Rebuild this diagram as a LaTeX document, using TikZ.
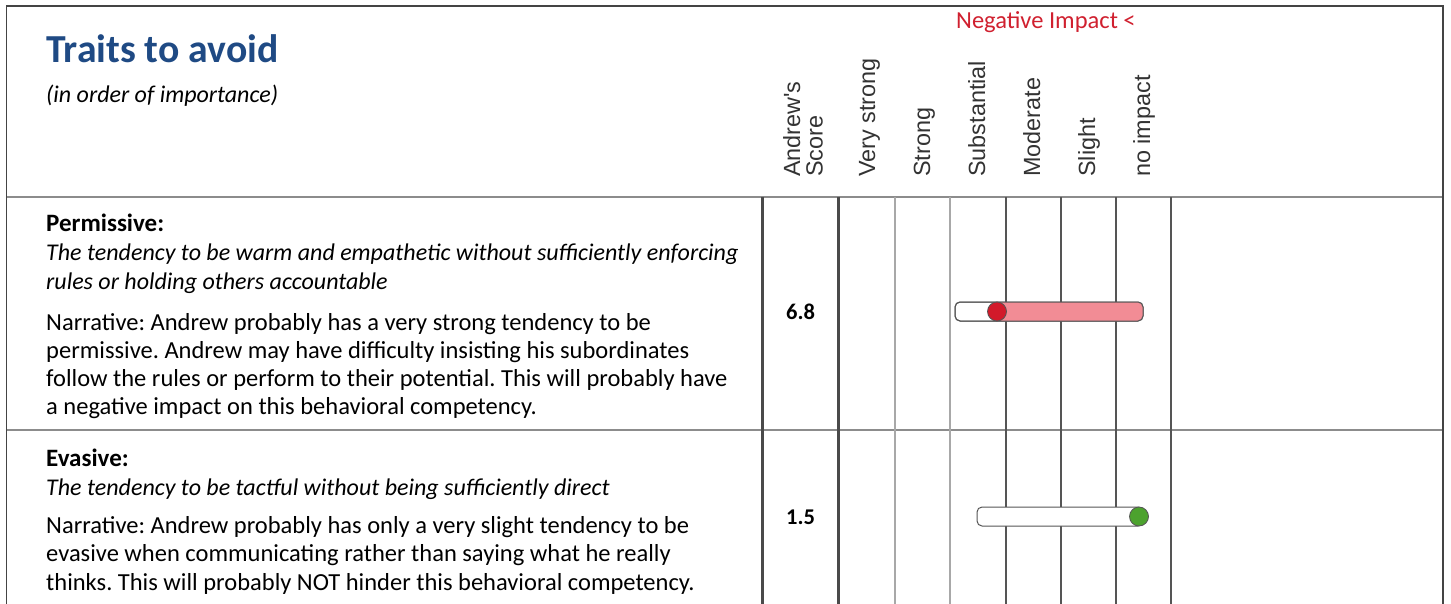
\documentclass[tikz,border=0pt]{standalone}
\usepackage{fontspec}
\setmainfont{Carlito}
\newfontfamily\hdrfont{Liberation Sans}
\definecolor{titleblue}{HTML}{1F4A84}
\definecolor{impactred}{HTML}{D0202F}
\definecolor{hdrgray}{HTML}{333333}
\definecolor{borderc}{HTML}{444444}
\definecolor{rowc}{HTML}{8C8C8C}
\definecolor{thickc}{HTML}{4A4A4A}
\definecolor{lightc}{HTML}{A8A8A8}
\definecolor{midc}{HTML}{555555}
\definecolor{barpink}{HTML}{F28C95}
\definecolor{dotred}{HTML}{D21A2A}
\definecolor{dotgreen}{HTML}{4CA22E}
\frenchspacing
\begin{document}
\begin{tikzpicture}[x=1pt,y=-1pt,
  txt/.style={anchor=base west, inner sep=0pt, font=\fontsize{24.5}{28}\selectfont},
  itxt/.style={txt, font=\fontsize{24}{28}\selectfont\itshape},
  btxt/.style={txt, font=\fontsize{25}{28}\selectfont\bfseries},
  hdr/.style={rotate=90, anchor=base west, inner sep=0pt, text=hdrgray, font=\hdrfont\fontsize{23.4}{22.5}\selectfont},
  score/.style={anchor=base, inner sep=0pt, font=\fontsize{22.5}{26}\selectfont\bfseries},
  border/.style={draw=borderc, line width=1.5pt},
  rowline/.style={draw=rowc, line width=1.6pt},
  thickline/.style={draw=thickc, line width=3pt},
  lightline/.style={draw=lightc, line width=1.5pt},
  midline/.style={draw=midc, line width=1.2pt},
  bar/.style={draw=midc, line width=1pt, rounded corners=5pt},
  dot/.style={circle, draw=midc, line width=0.8pt, minimum size=19pt, inner sep=0pt}
]
\useasboundingbox (0,0) rectangle (1451,604);

% grid lines
\draw[rowline] (6.5,197) -- (1443,197);
\draw[rowline] (6.5,430) -- (1443,430);
\foreach \x in {895,950} \draw[lightline] (\x,197) -- (\x,604);
\foreach \x in {1006,1061,1116,1171} \draw[midline] (\x,197) -- (\x,604);
\foreach \x in {762,838} \draw[thickline] (\x,197) -- (\x,604);
\draw[border] (6.5,604) -- (6.5,6) -- (1443,6) -- (1443,604);

% title
\node[anchor=base west, inner sep=0pt, text=titleblue, font=\fontsize{39.7}{44}\selectfont\bfseries] (title) at (46,62.7) {Traits to avoid};
\node[itxt] (sub) at (46,103) {(in order of importance)};

% header
\node[anchor=base west, inner sep=0pt, text=impactred, font=\fontsize{24.5}{26}\selectfont] (neg) at (956,28.3) {Negative Impact <};
\node[hdr, anchor=south west, align=left] (hscore) at (823,177) {Andrew's\\Score};
\node[hdr] (h1) at (875,177) {Very strong};
\node[hdr] (h2) at (930,177) {Strong};
\node[hdr] (h3) at (985,177) {Substantial};
\node[hdr] (h4) at (1040,177) {Moderate};
\node[hdr] (h5) at (1095,177) {Slight};
\node[hdr] (h6) at (1150,177) {no impact};

% row 1
\node[btxt] (p0) at (46,232) {Permissive:};
\node[itxt] (p1) at (46,261) {The tendency to be warm and empathetic without sufficiently enforcing};
\node[itxt] (p2) at (46,289.5) {rules or holding others accountable};
\node[txt] (p3) at (46,330) {Narrative: Andrew probably has a very strong tendency to be};
\node[txt] (p4) at (46,358.3) {permissive. Andrew may have difficulty insisting his subordinates};
\node[txt] (p5) at (46,386.6) {follow the rules or perform to their potential. This will probably have};
\node[txt] (p6) at (46,414.9) {a negative impact on this behavioral competency.};
\node[score] (s1) at (800.5,319) {6.8};

\draw[bar, fill=white] (955,302) rectangle (1143,321);
\begin{scope}
  \clip (997,295) rectangle (1150,330);
  \fill[barpink, rounded corners=5pt] (955,302) rectangle (1143,321);
\end{scope}
\draw[bar] (955,302) rectangle (1143,321);
\node[dot, fill=dotred] (d1) at (997,311.5) {};

% row 2
\node[btxt] (e0) at (46,466) {Evasive:};
\node[itxt] (e1) at (46,495) {The tendency to be tactful without being sufficiently direct};
\node[txt] (e2) at (46,533) {Narrative: Andrew probably has only a very slight tendency to be};
\node[txt] (e3) at (46,561.5) {evasive when communicating rather than saying what he really};
\node[txt] (e4) at (46,590) {thinks. This will probably NOT hinder this behavioral competency.};
\node[score] (s2) at (800.5,524) {1.5};

\draw[bar, fill=white] (977,507) rectangle (1143,526);
\node[dot, fill=dotgreen] (d2) at (1139,516.5) {};
\end{tikzpicture}
\end{document}
